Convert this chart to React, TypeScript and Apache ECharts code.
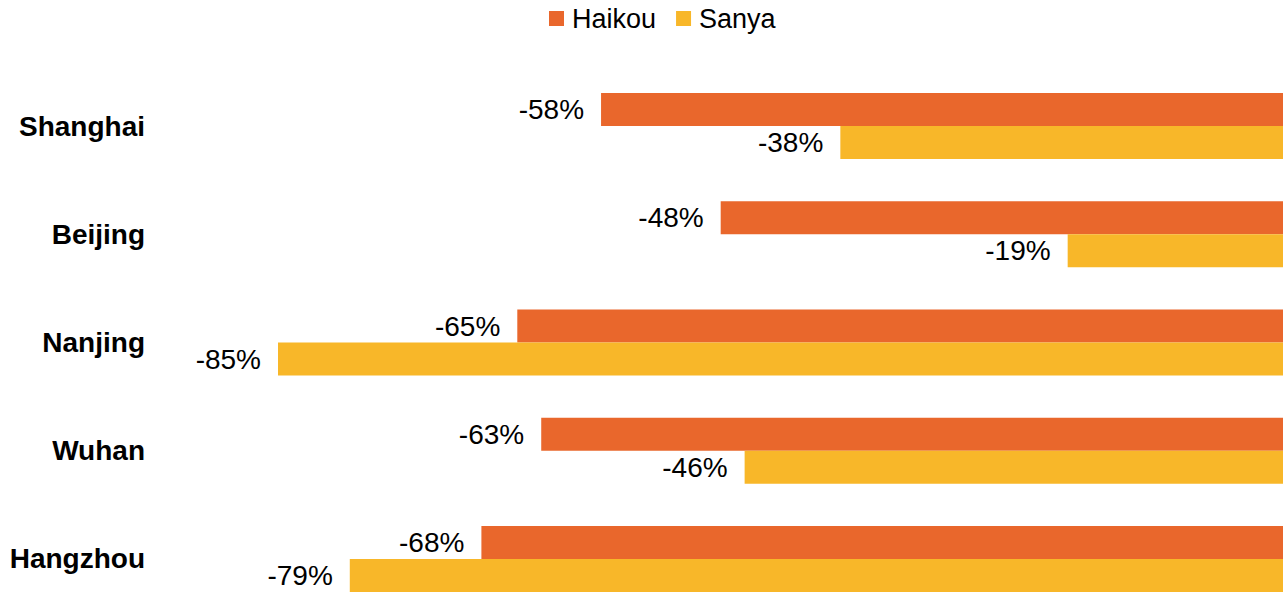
import React, { useEffect, useRef } from "react";
import * as echarts from "echarts";

const categories = ["Shanghai", "Beijing", "Nanjing", "Wuhan", "Hangzhou"];
const haikou = [-58, -48, -65, -63, -68];
const sanya = [-38, -19, -85, -46, -79];
const seriesNames = ["Haikou", "Sanya"];
const colors = ["#E9672C", "#F8B729"];

export default function App() {
  const ref = useRef<HTMLDivElement>(null);
  useEffect(() => {
    if (!ref.current) return;
    const chart = echarts.init(ref.current, undefined, { renderer: "svg" });
    const font = "Liberation Sans, Arial, sans-serif";
    const label = {
      show: true,
      position: "left" as const,
      distance: 17,
      color: "#000",
      fontSize: 28,
      fontFamily: font,
      formatter: (p: any) => `${p.value}%`,
    };
    chart.setOption({
      animation: false,
      color: colors,
      legend: {
        top: 0,
        left: 544,
        itemWidth: 15,
        itemHeight: 15,
        itemGap: 20,
        icon: "rect",
        textStyle: { fontSize: 27, fontFamily: font, color: "#000", padding: [0, 0, 0, 3] },
        data: seriesNames,
      },
      grid: { left: 278, right: 0, top: 72, bottom: -2, containLabel: false },
      xAxis: {
        type: "value",
        min: -85,
        max: 0,
        axisLabel: { show: false },
        axisLine: { show: false },
        axisTick: { show: false },
        splitLine: { show: false },
      },
      yAxis: {
        type: "category",
        inverse: true,
        data: categories,
        axisLine: { show: false },
        axisTick: { show: false },
        axisLabel: {
          margin: 133,
          fontSize: 28,
          fontWeight: "bold",
          fontFamily: font,
          color: "#000",
        },
      },
      series: [
        {
          name: seriesNames[0],
          type: "bar",
          data: haikou,
          barWidth: 33,
          barGap: "0%",
          label,
          itemStyle: { color: colors[0] },
        },
        {
          name: seriesNames[1],
          type: "bar",
          data: sanya,
          barWidth: 33,
          barGap: "0%",
          label,
          itemStyle: { color: colors[1] },
        },
      ],
    });
    return () => chart.dispose();
  }, []);
  return (
    <div style={{ position: "fixed", left: 0, top: 0, width: 1283, height: 613, overflow: "hidden", background: "#fff" }}>
      <div ref={ref} style={{ width: 1295, height: 613 }} />
    </div>
  );
}
